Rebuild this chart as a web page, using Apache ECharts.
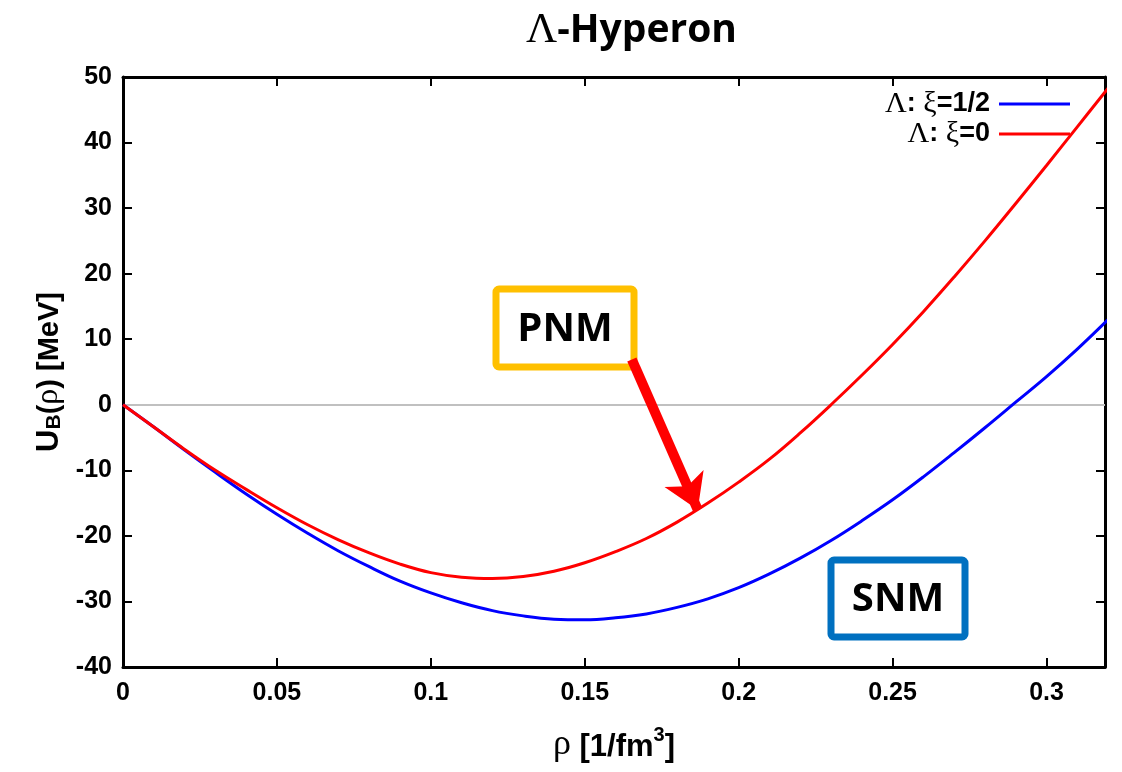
<!DOCTYPE html>
<html><head><meta charset="utf-8">
<script src="https://cdn.jsdelivr.net/npm/echarts@6/dist/echarts.min.js"></script>
<style>html,body{margin:0;padding:0;background:#fff}#c{width:1122px;height:772px}</style>
</head><body><div id="c"></div>
<script>
// density rho [1/fm^3]
const rho = [0,0.01,0.02,0.03,0.04,0.05,0.06,0.07,0.08,0.09,0.10,0.11,0.12,0.13,0.14,0.15,0.16,0.17,0.18,0.19,0.20,0.21,0.22,0.23,0.24,0.25,0.26,0.27,0.28,0.29,0.30,0.31,0.32];
// Lambda: xi = 1/2 (SNM)
const uHalf = [0,-3.4,-6.9,-10.3,-13.6,-16.7,-19.6,-22.3,-24.7,-26.9,-28.7,-30.2,-31.4,-32.2,-32.7,-32.8,-32.5,-31.9,-30.9,-29.6,-27.9,-25.8,-23.4,-20.7,-17.7,-14.5,-11.0,-7.3,-3.5,0.4,4.3,8.5,13.0];
// Lambda: xi = 0 (PNM)
const uZero = [0,-3.4,-6.8,-10.0,-12.9,-15.7,-18.3,-20.6,-22.6,-24.3,-25.6,-26.3,-26.5,-26.2,-25.4,-24.1,-22.4,-20.4,-17.9,-15.0,-11.8,-8.3,-4.3,0.0,4.5,9.2,14.2,19.5,25.0,30.7,36.5,42.4,48.3];
const seriesNames = ['Λ: ξ=1/2', 'Λ: ξ=0'];
const legendRich = ['{s|Λ}{b|: }{s|ξ}{b|=1/2}', '{s|Λ}{b|: }{s|ξ}{b|=0}'];
// PNM arrow: from label box to the xi=0 curve
const arrowFrom = [0.1653, 6.9];
const arrowTo = [0.1867, -16.0];

const SANS = '"Liberation Sans", Arial, sans-serif';
const SERIF = '"Liberation Serif", "DejaVu Serif", serif';
const chart = echarts.init(document.getElementById('c'));
const pair = (xs, ys) => xs.map((x, i) => [x, ys[i]]);
const legendText = {
  fontFamily: SANS, fontSize: 27, fontWeight: 'bold', color: '#000', padding: [0, 4, 0, 0],
  rich: { s: { fontFamily: SERIF, fontSize: 30, fontWeight: 'normal', color: '#000' },
          b: { fontFamily: SANS, fontSize: 27, fontWeight: 'bold', color: '#000' } }
};
const axisCommon = {
  axisLine: { show: true, onZero: false, lineStyle: { color: '#000', width: 3 } },
  axisTick: { show: true, inside: true, length: 9, lineStyle: { color: '#000', width: 2 } },
  splitLine: { show: false }
};
chart.setOption({
  animation: false,
  backgroundColor: '#fff',
  title: {
    text: '{s|Λ}{b|-Hyperon}', left: 521, top: 4,
    textStyle: { rich: {
      s: { fontFamily: SERIF, fontSize: 43, fontWeight: 'normal', color: '#000' },
      b: { fontFamily: '"Open Sans", sans-serif', fontSize: 39, fontWeight: 'bold', color: '#000' } } }
  },
  legend: [
    { data: [seriesNames[0]], right: 47, top: 84, align: 'right', icon: 'rect', itemWidth: 71, itemHeight: 3,
      formatter: () => legendRich[0], textStyle: legendText, selectedMode: false },
    { data: [seriesNames[1]], right: 47, top: 114, align: 'right', icon: 'rect', itemWidth: 71, itemHeight: 3,
      formatter: () => legendRich[1], textStyle: legendText, selectedMode: false }
  ],
  grid: { left: 123, right: 17, top: 77, bottom: 105, containLabel: false, outerBoundsMode: 'none' },
  xAxis: [
    Object.assign({ type: 'value', min: 0, max: 0.319, interval: 0.05, position: 'bottom',
      name: '{r|ρ}{a| [1/fm}{s|3}{a|]}', nameLocation: 'middle', nameGap: 58,
      nameTextStyle: { rich: {
        r: { fontFamily: SERIF, fontSize: 36, color: '#000', lineHeight: 38, verticalAlign: 'bottom' },
        a: { fontFamily: SANS, fontSize: 31, fontWeight: 'bold', color: '#000', lineHeight: 38, verticalAlign: 'bottom' },
        s: { fontFamily: SANS, fontSize: 20, fontWeight: 'bold', color: '#000', lineHeight: 20, verticalAlign: 'top' } } },
      axisLabel: { show: true, margin: 14, color: '#000', fontFamily: SANS, fontSize: 25, fontWeight: 'bold',
        showMaxLabel: false, formatter: v => String(+v.toFixed(2)) } }, axisCommon),
    Object.assign({ type: 'value', min: 0, max: 0.319, interval: 0.05, position: 'top',
      axisLabel: { show: false } }, axisCommon)
  ],
  yAxis: [
    Object.assign({ type: 'value', min: -40, max: 50, interval: 10, position: 'left',
      name: '{a|U}{b|B}{c|(}{d|ρ}{c|) [MeV]}', nameLocation: 'middle', nameGap: 58, nameRotate: 90,
      nameTextStyle: { rich: {
        a: { fontFamily: SANS, fontSize: 31, fontWeight: 'bold', color: '#000', lineHeight: 36, verticalAlign: 'bottom' },
        b: { fontFamily: SANS, fontSize: 21, fontWeight: 'bold', color: '#000', lineHeight: 17, verticalAlign: 'bottom' },
        c: { fontFamily: SANS, fontSize: 29, fontWeight: 'bold', color: '#000', lineHeight: 36, verticalAlign: 'bottom' },
        d: { fontFamily: SERIF, fontSize: 32, color: '#000', lineHeight: 36, verticalAlign: 'bottom' } } },
      axisLabel: { show: true, margin: 11, color: '#000', fontFamily: SANS, fontSize: 25, fontWeight: 'bold' } }, axisCommon),
    Object.assign({ type: 'value', min: -40, max: 50, interval: 10, position: 'right',
      axisLabel: { show: false } }, axisCommon)
  ],
  series: [
    { name: seriesNames[0], type: 'line', data: pair(rho, uHalf), smooth: 0.4, showSymbol: false,
      color: '#0000ff', lineStyle: { color: '#0000ff', width: 3 }, z: 3,
      markLine: { silent: true, symbol: ['none', 'none'], label: { show: false },
        lineStyle: { color: '#c0c0c0', width: 2, type: 'solid' }, data: [{ yAxis: 0 }], z: 1 } },
    { name: seriesNames[1], type: 'line', data: pair(rho, uZero), smooth: 0.4, showSymbol: false,
      color: '#ff0000', lineStyle: { color: '#ff0000', width: 3 }, z: 4,
      markLine: { silent: true, symbol: ['none', 'arrow'], symbolSize: [32, 34], label: { show: false },
        lineStyle: { color: '#ff0000', width: 10, type: 'solid' },
        data: [[{ coord: arrowFrom }, { coord: arrowTo }]], z: 10 } }
  ],
  graphic: [
    { type: 'rect', shape: { x: 496, y: 289, width: 138, height: 78, r: 3 },
      style: { fill: '#fff', stroke: '#FFC000', lineWidth: 7 }, z: 5 },
    { type: 'text', x: 565, y: 330, z: 6,
      style: { text: 'PNM', fill: '#000', font: 'bold 40px "Open Sans", sans-serif', align: 'center', verticalAlign: 'middle' } },
    { type: 'rect', shape: { x: 831, y: 560, width: 134, height: 77, r: 3 },
      style: { fill: '#fff', stroke: '#0070C0', lineWidth: 7 }, z: 5 },
    { type: 'text', x: 898, y: 600, z: 6,
      style: { text: 'SNM', fill: '#000', font: 'bold 40px "Open Sans", sans-serif', align: 'center', verticalAlign: 'middle' } }
  ]
});
</script></body></html>
